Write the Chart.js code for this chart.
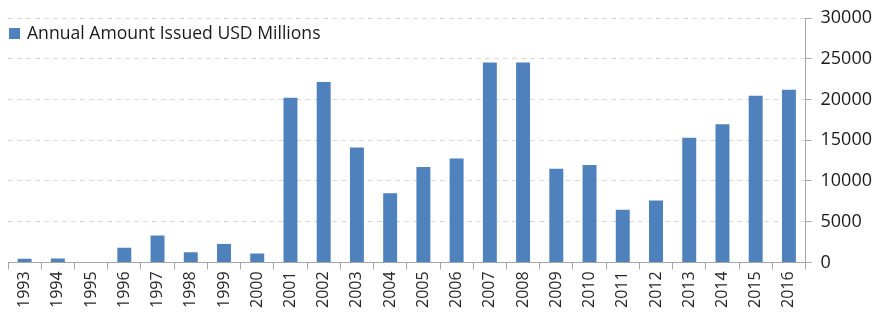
<!DOCTYPE html>
<html>
<head>
<meta charset="utf-8">
<script src="https://cdn.jsdelivr.net/npm/chart.js@4.4.0/dist/chart.umd.min.js"></script>
<style>
  html, body { margin: 0; padding: 0; background: #fff; }
  #wrap { width: 881px; height: 324px; }
</style>
</head>
<body>
<div id="wrap"><canvas id="grafico"></canvas></div>
<script>
const anos = ["1993","1994","1995","1996","1997","1998","1999","2000","2001","2002","2003","2004",
  "2005","2006","2007","2008","2009","2010","2011","2012","2013","2014","2015","2016"];
const valores = [450, 480, 0, 1800, 3300, 1250, 2250, 1100, 20200, 22150, 14100, 8500,
  11700, 12750, 24550, 24550, 11500, 11950, 6450, 7600, 15300, 16950, 20450, 21200];
const serieNome = "Annual Amount Issued USD Millions";
const corBarra = "#4f81bd";
const fonte = "'Open Sans', sans-serif";

// legenda desenhada dentro da area do grafico, como no original
const legendaDentro = {
  id: "legendaDentro",
  afterDraw(chart) {
    const ctx = chart.ctx;
    const x0 = chart.chartArea.left + 1;
    ctx.save();
    ctx.fillStyle = corBarra;
    ctx.fillRect(x0, 28, 11, 11);
    ctx.fillStyle = "#1a1a1a";
    ctx.font = "17.6px " + fonte;
    ctx.textBaseline = "alphabetic";
    ctx.fillText(serieNome, x0 + 18, 39);
    ctx.restore();
  }
};

const ctx = document.getElementById("grafico").getContext("2d");
new Chart(ctx, {
  type: "bar",
  data: {
    labels: anos,
    datasets: [{
      label: serieNome,
      data: valores,
      backgroundColor: corBarra,
      categoryPercentage: 1,
      barPercentage: 0.42
    }]
  },
  options: {
    responsive: true,
    maintainAspectRatio: false,
    animation: false,
    layout: { padding: { left: 8, top: 2, right: 0, bottom: 14 } },
    plugins: {
      legend: { display: false },
      tooltip: { enabled: false }
    },
    scales: {
      x: {
        grid: {
          offset: true,
          drawOnChartArea: false,
          drawTicks: true,
          tickLength: 7,
          color: "#a6a6a6"
        },
        border: { color: "#a6a6a6" },
        ticks: {
          autoSkip: false,
          minRotation: 90,
          maxRotation: 90,
          padding: 2,
          color: "#262626",
          font: { family: fonte, size: 16 }
        }
      },
      y: {
        position: "right",
        min: 0,
        max: 30000,
        ticks: {
          stepSize: 5000,
          padding: 9,
          color: "#1a1a1a",
          font: { family: fonte, size: 18, lineHeight: 1 },
          callback: (v) => String(v)
        },
        grid: {
          color: "#d9d9d9",
          tickColor: "#a6a6a6",
          tickLength: 6
        },
        border: { color: "#a6a6a6", dash: [5, 4] }
      }
    }
  },
  plugins: [legendaDentro]
});
</script>
</body>
</html>
